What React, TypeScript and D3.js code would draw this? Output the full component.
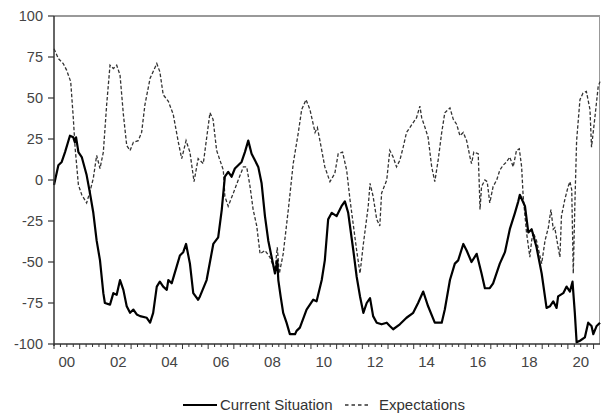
import React from 'react';
import * as d3 from 'd3';

// Current Situation index, [decimal year, value]
const currentSituation: [number, number][] = [
  [2000.0, -3], [2000.17, 9], [2000.3, 11], [2000.43, 17], [2000.62, 27], [2000.75, 26], [2000.81, 23],
  [2000.86, 26], [2000.95, 17], [2001.08, 14], [2001.27, 3], [2001.4, -8], [2001.53, -20], [2001.66, -37],
  [2001.79, -49], [2001.92, -69], [2001.98, -75], [2002.18, -76], [2002.31, -69], [2002.44, -70],
  [2002.57, -61], [2002.7, -67], [2002.83, -77], [2002.96, -81], [2003.09, -79], [2003.22, -82],
  [2003.35, -83], [2003.61, -84], [2003.74, -87], [2003.86, -81], [2004.0, -65], [2004.12, -62],
  [2004.25, -65], [2004.39, -67], [2004.45, -61], [2004.58, -63], [2004.77, -53], [2004.9, -46],
  [2005.03, -44], [2005.14, -39], [2005.29, -51], [2005.42, -69], [2005.61, -73], [2005.68, -71],
  [2005.94, -61], [2006.2, -39], [2006.39, -35], [2006.53, -18], [2006.65, 2], [2006.78, 5],
  [2006.91, 2], [2007.04, 7], [2007.3, 11], [2007.43, 17], [2007.56, 24], [2007.69, 16], [2007.82, 12],
  [2007.95, 8], [2008.08, -2], [2008.21, -22], [2008.34, -37], [2008.47, -47], [2008.6, -57],
  [2008.69, -49], [2008.73, -61], [2008.82, -71], [2008.92, -81], [2009.05, -87], [2009.18, -94],
  [2009.38, -94], [2009.44, -92], [2009.57, -90], [2009.83, -79], [2010.09, -73], [2010.22, -74],
  [2010.42, -61], [2010.54, -49], [2010.67, -24], [2010.81, -20], [2011.0, -22], [2011.19, -16],
  [2011.32, -13], [2011.45, -20], [2011.65, -43], [2011.78, -59], [2011.91, -71], [2012.04, -81],
  [2012.17, -75], [2012.3, -72], [2012.42, -83], [2012.56, -87], [2012.75, -88], [2012.95, -87],
  [2013.07, -89], [2013.2, -91], [2013.46, -88], [2013.72, -84], [2013.98, -81], [2014.17, -75],
  [2014.37, -68], [2014.56, -77], [2014.82, -87], [2015.09, -87], [2015.21, -79], [2015.41, -61],
  [2015.6, -51], [2015.73, -49], [2015.93, -39], [2016.06, -43], [2016.25, -50], [2016.45, -45],
  [2016.64, -57], [2016.77, -66], [2016.96, -66], [2017.09, -63], [2017.35, -51], [2017.55, -44],
  [2017.74, -30], [2017.94, -20], [2018.07, -13], [2018.13, -9], [2018.33, -16], [2018.46, -32],
  [2018.59, -30], [2018.78, -41], [2018.98, -57], [2019.17, -78], [2019.3, -77], [2019.43, -74],
  [2019.56, -78], [2019.62, -71], [2019.82, -69], [2019.95, -65], [2020.08, -68], [2020.18, -62],
  [2020.27, -81], [2020.34, -99], [2020.47, -98], [2020.66, -96], [2020.79, -87], [2020.92, -89],
  [2020.99, -94], [2021.12, -89], [2021.25, -87],
];

// Expectations index, [decimal year, value]
const expectations: [number, number][] = [
  [2000.0, 80], [2000.17, 74], [2000.36, 71], [2000.49, 67], [2000.65, 60], [2000.75, 38], [2000.82, 20],
  [2000.95, -3], [2001.08, -9], [2001.27, -14], [2001.4, -7], [2001.53, 1], [2001.66, 15], [2001.79, 7],
  [2001.92, 17], [2002.05, 46], [2002.18, 70], [2002.31, 68], [2002.44, 70], [2002.57, 64], [2002.7, 40],
  [2002.83, 21], [2002.96, 18], [2003.09, 23], [2003.28, 24], [2003.41, 29], [2003.54, 46], [2003.74, 62],
  [2004.0, 71], [2004.12, 66], [2004.25, 52], [2004.45, 48], [2004.64, 40], [2004.84, 23], [2004.97, 13],
  [2005.14, 24], [2005.29, 17], [2005.45, -1], [2005.61, 13], [2005.81, 10], [2006.07, 41], [2006.19, 37],
  [2006.33, 18], [2006.59, 6], [2006.65, -10], [2006.78, -16], [2006.98, -8], [2007.17, 0], [2007.37, 8],
  [2007.5, 8], [2007.63, -4], [2007.75, -18], [2007.89, -28], [2008.02, -45], [2008.21, -43],
  [2008.4, -47], [2008.6, -55], [2008.69, -41], [2008.77, -57], [2008.92, -45], [2009.12, -18],
  [2009.31, 10], [2009.51, 29], [2009.64, 43], [2009.81, 49], [2009.96, 43], [2010.16, 29], [2010.25, 32],
  [2010.35, 24], [2010.54, 8], [2010.74, -1], [2010.93, 4], [2011.06, 16], [2011.23, 17], [2011.39, 6],
  [2011.52, -12], [2011.78, -43], [2011.91, -57], [2012.04, -39], [2012.23, -16], [2012.3, -2],
  [2012.42, -10], [2012.56, -24], [2012.68, -28], [2012.75, -8], [2012.95, 0], [2013.07, 18],
  [2013.2, 14], [2013.33, 8], [2013.46, 12], [2013.59, 20], [2013.72, 29], [2013.85, 32], [2013.98, 35],
  [2014.11, 38], [2014.24, 45], [2014.31, 38], [2014.44, 32], [2014.56, 26], [2014.7, 8], [2014.82, -1],
  [2014.95, 12], [2015.09, 29], [2015.21, 41], [2015.41, 44], [2015.54, 37], [2015.67, 34], [2015.8, 27],
  [2015.93, 29], [2016.06, 24], [2016.19, 14], [2016.25, 10], [2016.34, 17], [2016.51, 16],
  [2016.55, -2], [2016.58, -18], [2016.64, -4], [2016.77, 0], [2016.86, -1], [2016.96, -14],
  [2017.09, -4], [2017.23, 0], [2017.35, 6], [2017.48, 9], [2017.61, 11], [2017.74, 14], [2017.87, 8],
  [2018.0, 18], [2018.11, 19], [2018.2, 8], [2018.26, -10], [2018.39, -32], [2018.52, -47],
  [2018.59, -37], [2018.65, -32], [2018.78, -37], [2018.98, -51], [2019.11, -37], [2019.24, -29],
  [2019.34, -18], [2019.43, -30], [2019.49, -29], [2019.62, -41], [2019.69, -47], [2019.75, -22],
  [2019.88, -12], [2020.01, -4], [2020.08, -1], [2020.15, -6], [2020.21, -57], [2020.27, -16],
  [2020.34, 24], [2020.47, 49], [2020.59, 53], [2020.72, 54], [2020.86, 43], [2020.92, 20],
  [2021.05, 38], [2021.18, 57], [2021.25, 60],
];

const yTicks = [100, 75, 50, 25, 0, -25, -50, -75, -100];
const xLabelYears = [2000, 2002, 2004, 2006, 2008, 2010, 2012, 2014, 2016, 2018, 2020];
const legendItems = ['Current Situation', 'Expectations'];

const W = 601;
const H = 415;
const margin = { top: 16, right: 1, bottom: 71, left: 54 };

export default function App() {
  const x = d3.scaleLinear().domain([2000, 2021.25]).range([margin.left, W - margin.right]);
  const y = d3.scaleLinear().domain([-100, 100]).range([H - margin.bottom, margin.top]);

  const line = d3.line<[number, number]>()
    .x(d => x(d[0]))
    .y(d => y(d[1]));

  const quarters = d3.range(2000, 2021.25, 0.25);
  const font = 'Arial, "Liberation Sans", sans-serif';
  const x0 = x.range()[0];
  const x1 = x.range()[1];
  const yBottom = y(-100);
  const yTop = y(100);

  return (
    <svg width={W} height={H} style={{ position: 'absolute', left: 0, top: 0, background: '#fff' }}>
      {/* frame */}
      <line x1={x0} x2={x1} y1={yTop} y2={yTop} stroke="#777" strokeWidth={1.5} />
      <line x1={x1 - 0.5} x2={x1 - 0.5} y1={yTop} y2={yBottom} stroke="#999" strokeWidth={1} />

      {/* series */}
      <path d={line(expectations) ?? ''} fill="none" stroke="#333" strokeWidth={1.3} strokeDasharray="3.5,2" />
      <path d={line(currentSituation) ?? ''} fill="none" stroke="#000" strokeWidth={2.2} strokeLinejoin="round" />

      {/* y axis */}
      <line x1={x0} x2={x0} y1={yTop} y2={yBottom + 2} stroke="#333" strokeWidth={1.5} />
      {yTicks.map(t => (
        <g key={t}>
          <line x1={x0 - 6} x2={x0} y1={y(t)} y2={y(t)} stroke="#333" strokeWidth={1.2} />
          <text x={x0 - 11} y={y(t)} dy="0.35em" textAnchor="end" fontFamily={font} fontSize={14.5} fill="#444">
            {t}
          </text>
        </g>
      ))}

      {/* x axis */}
      <line x1={x0} x2={x1} y1={yBottom} y2={yBottom} stroke="#333" strokeWidth={1.5} />
      {quarters.map(q => {
        const isYear = Math.abs(q - Math.round(q)) < 1e-6;
        return (
          <line key={q} x1={x(q)} x2={x(q)} y1={yBottom} y2={yBottom + (isYear ? 5 : 3)} stroke="#333" strokeWidth={1} />
        );
      })}
      {xLabelYears.map(yr => (
        <text key={yr} x={x(yr + 0.5)} y={yBottom + 23} textAnchor="middle" fontFamily={font} fontSize={15} fill="#444">
          {String(yr % 100).padStart(2, '0')}
        </text>
      ))}

      {/* legend */}
      <g fontFamily={font} fontSize={15} fill="#333">
        <line x1={183} x2={217} y1={405} y2={405} stroke="#000" strokeWidth={2.2} />
        <text x={220} y={405} dy="0.35em">{legendItems[0]}</text>
        <line x1={345} x2={371} y1={405} y2={405} stroke="#333" strokeWidth={1.3} strokeDasharray="3.5,3" />
        <text x={379} y={405} dy="0.35em">{legendItems[1]}</text>
      </g>
    </svg>
  );
}
